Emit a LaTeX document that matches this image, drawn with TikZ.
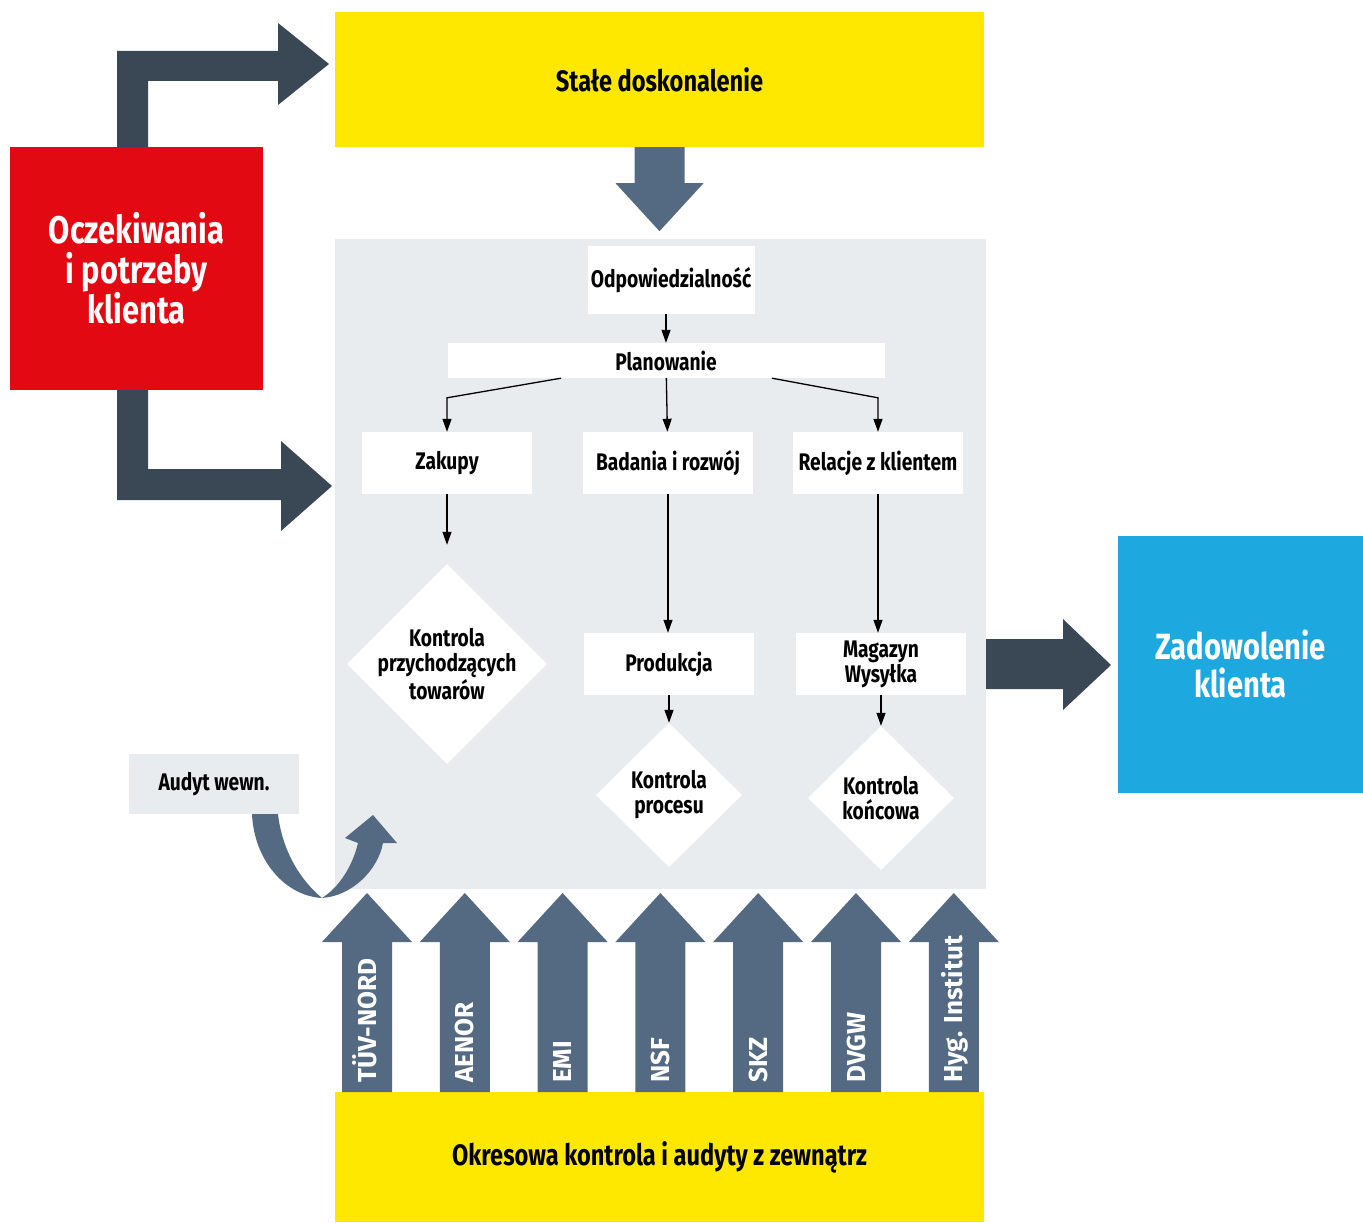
\documentclass[tikz,border=0pt]{standalone}
\usepackage{fontspec}
\setmainfont{Fira Sans}
\newfontfamily\narrowfont{Fira Sans}[FakeStretch=0.8]
\usepackage{xcolor}
\definecolor{zolty}{HTML}{FFE800}
\definecolor{czerwony}{HTML}{E30913}
\definecolor{niebieski}{HTML}{1EA8E0}
\definecolor{grafit}{HTML}{3A4856}
\definecolor{stal}{HTML}{546A82}
\definecolor{szary}{HTML}{E8ECEF}
\usepackage{tikz}
\usetikzlibrary{shapes,arrows,arrows.meta}
\usetikzlibrary{positioning}
\tikzstyle{block} = [rectangle, fill=white, inner sep=0pt, align=center,
    minimum width=170pt, minimum height=62pt, font=\narrowfont\bfseries\fontsize{24}{25}\selectfont]
\tikzstyle{decision} = [diamond, fill=white, inner sep=0pt, align=center,
    minimum width=146pt, minimum height=144pt, font=\narrowfont\bfseries\fontsize{24}{25}\selectfont]
\tikzstyle{bigbox} = [rectangle, inner sep=0pt, align=center,
    font=\narrowfont\bfseries\fontsize{38.5}{39.5}\selectfont]
\tikzstyle{line} = [draw, line width=1.3pt, -{Triangle[width=9pt,length=13pt]}]
\tikzstyle{certname} = [rotate=90, anchor=base west, text=white, inner sep=0pt,
    font=\bfseries\fontsize{26}{26}\selectfont]

\begin{document}
\begin{tikzpicture}[x=1pt,y=-1pt,node distance=131pt]
    \useasboundingbox (0,0) rectangle (1363,1223);
    % Place nodes
    \node [rectangle, fill=szary, minimum width=651pt, minimum height=650pt] (panel) at (660.5,564) {};
    \node [bigbox, fill=zolty, minimum width=649pt, minimum height=135pt,
        font=\narrowfont\bfseries\fontsize{29.5}{30}\selectfont] (stale) at (659.5,79.5) {Stałe doskonalenie};
    \node [bigbox, fill=czerwony, text=white, minimum width=253pt, minimum height=243pt] (oczek) at (136.5,268.5)
        {Oczekiwania\\i potrzeby\\klienta};
    \node [bigbox, fill=niebieski, text=white, minimum width=245pt, minimum height=257pt,
        font=\narrowfont\bfseries\fontsize{36.5}{38}\selectfont] (zad) at (1240.5,664.5)
        {Zadowolenie\\klienta};
    \node [bigbox, fill=zolty, minimum width=649pt, minimum height=130pt,
        font=\narrowfont\bfseries\fontsize{29.5}{30}\selectfont] (okres) at (659.5,1157) {Okresowa kontrola i audyty z zewnątrz};

    \node [block, minimum width=167pt, minimum height=68pt] (odp) at (671,280) {Odpowiedzialność};
    \node [block, minimum width=437pt, minimum height=35pt] (plan) at (666,360.5) {Planowanie};
    \node [block] (zak) at (447,463) {Zakupy};
    \node [block] (bad) at (668,463) {Badania i rozwój};
    \node [block] (rel) at (878,463) {Relacje z klientem};
    \node [decision, minimum width=200pt, minimum height=200pt, inner sep=-10pt] (kprzych) at (447,664)
        {Kontrola\\przychodzących\\towarów};
    \node [block] (prod) at (669,664) {Produkcja};
    \node [block] (mag) at (881,664) {Magazyn\\Wysyłka};
    \node [decision, below of=prod] (kproc) {Kontrola\\procesu};
    \node [decision, below of=mag, node distance=134pt] (kkonc) {Kontrola\\końcowa};
    \node [block, fill=szary, minimum height=60pt] (audyt) at (214,784) {Audyt wewn.};

    % Draw edges
    \path [line] (odp.south -| plan.north) -- (plan);
    \path [line] ([xshift=-105pt]plan.south) -- ([yshift=34pt]zak.north) -- (zak.north);
    \path [line] (plan) -- (bad);
    \path [line] ([xshift=106pt]plan.south) -- ([yshift=34pt]rel.north) -- (rel.north);
    \path [line] (zak) -- ([yshift=19pt]kprzych.north);
    \path [line] (bad) -- (bad |- prod.north);
    \path [line] (rel) -- (rel |- mag.north);
    \path [line] (prod) -- (kproc);
    \path [line] (mag) -- (kkonc);

    % big arrows
    \fill [grafit] (117,147) -- (117,51) -- (278,51) -- (278,23) -- (329,64) -- (278,105)
        -- (278,81) -- (148,81) -- (148,147) -- cycle;
    \fill [grafit] (117,390) -- (117,500) -- (281,500) -- (281,531) -- (332,486) -- (281,441)
        -- (281,469) -- (148,469) -- (148,390) -- cycle;
    \fill [grafit] (986,639) -- (1063,639) -- (1063,619) -- (1111,665) -- (1063,710) -- (1063,689)
        -- (986,689) -- cycle;
    \fill [stal] ([xshift=-25pt]stale.south) -- ++(0,36) -- ++(-19,0) -- ++(44,48) -- ++(44,-48)
        -- ++(-19,0) -- ++(0,-36) -- cycle;
    \fill [stal] (252,814) .. controls (254,860) and (285,896) .. (322,898)
        .. controls (352,896) and (378,870) .. (383,843) -- (397,843) -- (373,815) -- (345,838)
        -- (358,843) .. controls (352,868) and (338,888) .. (322,898)
        .. controls (300,880) and (282,850) .. (278,814) -- cycle;
    \foreach \name [count=\i from 0] in {TÜV-NORD,AENOR,EMI,NSF,SKZ,DVGW,Hyg. Institut} {
        \fill [stal] (367+97.8*\i-25,1092) -- ++(0,-150) -- ++(-20,0) -- ++(45,-49) -- ++(45,49)
            -- ++(-20,0) -- ++(0,150) -- cycle;
        \node [certname] (cert\i) at (367+97.8*\i+9,1083) {\name};
    }
\end{tikzpicture}
\end{document}
